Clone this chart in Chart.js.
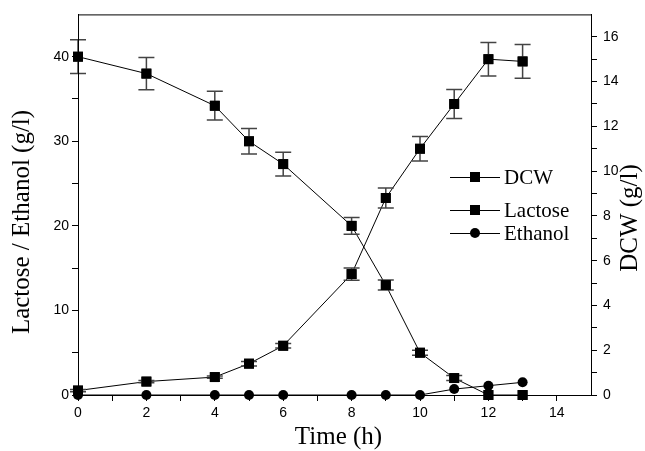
<!DOCTYPE html>
<html>
<head>
<meta charset="utf-8">
<script src="https://cdn.jsdelivr.net/npm/chart.js@4.4.0/dist/chart.umd.min.js"></script>
<style>
  html, body { margin: 0; padding: 0; background: #fff; }
  #wrap { width: 645px; height: 451px; }
</style>
</head>
<body>
<div id="wrap"><canvas id="chart" width="645" height="451"></canvas></div>
<script>
// Time points (h)
const times = [0, 2, 4, 5, 6, 8, 9, 10, 11, 12, 13];

// Lactose (g/l), left axis
const lactose = [40, 38, 34.2, 30, 27.3, 20, 13, 5, 2, 0, 0];
const lactoseErr = [2, 1.9, 1.7, 1.5, 1.4, 1, 0.6, 0.3, 0.3, 0, 0];

// DCW (g/l), right axis
const dcw = [0.2, 0.6, 0.8, 1.4, 2.2, 5.4, 8.8, 11, 13, 15, 14.9];
const dcwErr = [0.05, 0.05, 0.05, 0.1, 0.1, 0.27, 0.45, 0.55, 0.65, 0.75, 0.75];

// Ethanol (g/l), left axis
const ethanol = [0, 0, 0, 0, 0, 0, 0, 0, 0.7, 1.1, 1.5];

const legendItems = [
    { label: "DCW", marker: "rect" },
    { label: "Lactose", marker: "rect" },
    { label: "Ethanol", marker: "circle" }
];

const toPoints = vals => vals.map((v, i) => ({ x: times[i], y: v }));

// Error bars, markers redrawn on top
const errorBars = {
    id: "errorBars",
    afterDatasetsDraw(chart) {
        const ctx = chart.ctx;
        chart.data.datasets.forEach((ds, di) => {
            if (!ds.errors) return;
            const meta = chart.getDatasetMeta(di);
            const yScale = chart.scales[ds.yAxisID];
            ctx.save();
            ctx.strokeStyle = "#444";
            ctx.lineWidth = 1.5;
            meta.data.forEach((pt, i) => {
                const e = ds.errors[i];
                if (!e) return;
                const yTop = yScale.getPixelForValue(ds.data[i].y + e);
                const yBot = yScale.getPixelForValue(ds.data[i].y - e);
                ctx.beginPath();
                ctx.moveTo(pt.x, yTop); ctx.lineTo(pt.x, yBot);
                ctx.moveTo(pt.x - 8, yTop); ctx.lineTo(pt.x + 8, yTop);
                ctx.moveTo(pt.x - 8, yBot); ctx.lineTo(pt.x + 8, yBot);
                ctx.stroke();
            });
            ctx.restore();
            meta.data.forEach(pt => pt.draw(ctx));
        });
    }
};

// Frame, axis titles and legend
const decorations = {
    id: "decorations",
    afterDraw(chart) {
        const ctx = chart.ctx;
        const a = chart.chartArea;
        ctx.save();
        ctx.strokeStyle = "#000";
        ctx.lineWidth = 1;
        ctx.strokeRect(a.left + 0.5, a.top + 0.5, a.right - a.left, a.bottom - a.top);

        ctx.fillStyle = "#000";
        ctx.font = "25px 'Liberation Serif', serif";
        ctx.textAlign = "center";
        ctx.textBaseline = "middle";
        ctx.fillText("Time (h)", (a.left + a.right) / 2 + 4, 437);

        ctx.save();
        ctx.translate(22, 222);
        ctx.rotate(-Math.PI / 2);
        ctx.fillText("Lactose / Ethanol (g/l)", 0, 0);
        ctx.restore();

        ctx.save();
        ctx.translate(630, 218);
        ctx.rotate(-Math.PI / 2);
        ctx.fillText("DCW (g/l)", 0, 0);
        ctx.restore();

        // legend
        ctx.font = "21px 'Liberation Serif', serif";
        ctx.textAlign = "left";
        const rows = [177, 210, 233];
        legendItems.forEach((item, i) => {
            const y = rows[i];
            ctx.beginPath();
            ctx.moveTo(450, y + 0.5); ctx.lineTo(500, y + 0.5);
            ctx.stroke();
            if (item.marker === "rect") {
                ctx.fillRect(470, y - 5, 10, 10);
            } else {
                ctx.beginPath();
                ctx.arc(475, y, 5, 0, Math.PI * 2);
                ctx.fill();
            }
            ctx.fillText(item.label, 504, y + 1);
        });
        ctx.restore();
    }
};

const tickFont = { family: "'Liberation Sans', Arial, sans-serif", size: 14 };
const axisGrid = { drawOnChartArea: false, drawTicks: true, tickLength: 6, color: "#000", lineWidth: 1 };
const axisBorder = { display: true, color: "#000", width: 1 };

const ctx = document.getElementById("chart").getContext("2d");
const chart = new Chart(ctx, {
    type: "line",
    data: {
        datasets: [
            {
                label: "DCW",
                data: toPoints(dcw),
                errors: dcwErr,
                yAxisID: "y2",
                borderColor: "#000",
                backgroundColor: "#000",
                borderWidth: 1,
                pointStyle: "rect",
                pointRadius: 7,
                pointBorderWidth: 0,
                clip: false
            },
            {
                label: "Lactose",
                data: toPoints(lactose),
                errors: lactoseErr,
                yAxisID: "y",
                borderColor: "#000",
                backgroundColor: "#000",
                borderWidth: 1,
                pointStyle: "rect",
                pointRadius: 7,
                pointBorderWidth: 0,
                clip: false
            },
            {
                label: "Ethanol",
                data: toPoints(ethanol),
                yAxisID: "y",
                borderColor: "#000",
                backgroundColor: "#000",
                borderWidth: 1,
                pointStyle: "circle",
                pointRadius: 5,
                pointBorderWidth: 0,
                clip: false
            }
        ]
    },
    options: {
        responsive: false,
        animation: false,
        layout: { padding: { top: 14, left: 0, right: 0, bottom: 0 } },
        plugins: { legend: { display: false }, tooltip: { enabled: false } },
        scales: {
            x: {
                type: "linear",
                min: 0,
                max: 15,
                grid: axisGrid,
                border: axisBorder,
                afterFit: s => { s.height = 56; },
                afterBuildTicks: s => { s.ticks = s.ticks.filter(t => t.value < 15); },
                ticks: {
                    stepSize: 1,
                    padding: 4,
                    color: "#000",
                    font: tickFont,
                    maxRotation: 0,
                    autoSkip: false,
                    callback: v => (v % 2 === 0 ? v : "")
                }
            },
            y: {
                position: "left",
                min: 0,
                max: 45,
                grid: axisGrid,
                border: axisBorder,
                afterFit: s => { s.width = 78; },
                afterBuildTicks: s => { s.ticks = s.ticks.filter(t => t.value < 45); },
                ticks: {
                    stepSize: 5,
                    padding: 3,
                    color: "#000",
                    font: tickFont,
                    autoSkip: false,
                    callback: v => (v % 10 === 0 ? v : "")
                }
            },
            y2: {
                position: "right",
                min: 0,
                max: 17,
                grid: axisGrid,
                border: axisBorder,
                afterFit: s => { s.width = 54; },
                afterBuildTicks: s => { s.ticks = s.ticks.filter(t => t.value < 17); },
                ticks: {
                    stepSize: 1,
                    padding: 6,
                    color: "#000",
                    font: tickFont,
                    autoSkip: false,
                    callback: v => (v % 2 === 0 ? v : "")
                }
            }
        }
    },
    plugins: [errorBars, decorations]
});
</script>
</body>
</html>
